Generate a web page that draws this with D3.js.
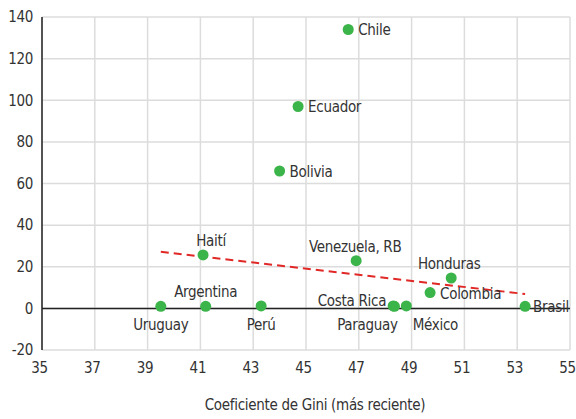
<!DOCTYPE html>
<html>
<head>
<meta charset="utf-8">
<script src="https://cdn.jsdelivr.net/npm/d3@7"></script>
<style>
	body { margin: 0; background: #fff; }
	svg text { font-family: "DejaVu Sans Condensed", "Liberation Sans Narrow", sans-serif; fill: #333; letter-spacing: -0.3px; }
</style>
</head>
<body>
<svg width="576" height="419"></svg>
<script>
// datos
const countries = [ "Chile", "Ecuador", "Bolivia", "Haití", "Venezuela, RB", "Honduras", "Colombia", "Brasil", "Uruguay", "Argentina", "Perú", "Costa Rica", "Paraguay", "México" ];
const gini      = [ 46.6, 44.7, 44.0, 41.1, 46.9, 50.5, 49.7, 53.3, 39.5, 41.2, 43.3, 48.3, 48.35, 48.8 ];
const yvals     = [ 134, 97, 66, 25.7, 22.9, 14.6, 7.6, 1, 1, 1, 1.2, 1.2, 1, 1.2 ];
const trendX    = [ 39.5, 53.3 ];
const trendY    = [ 27.2, 6.9 ];
const xTicks    = d3.range( 35, 56, 2 );
const yTicks    = d3.range( -20, 141, 20 );
const xTitle    = "Coeficiente de Gini (más reciente)";

// dónde va cada etiqueta respecto a su punto
const labelPos = {
	"Chile":         { pos: "right" },
	"Ecuador":       { pos: "right" },
	"Bolivia":       { pos: "right" },
	"Haití":         { pos: "above", dx: 8 },
	"Venezuela, RB": { pos: "above", dx: -1 },
	"Honduras":      { pos: "above", dx: -2 },
	"Colombia":      { pos: "right" },
	"Brasil":        { pos: "right", dx: -2 },
	"Uruguay":       { pos: "below" },
	"Argentina":     { pos: "above" },
	"Perú":          { pos: "below" },
	"Costa Rica":    { pos: "left", dy: -6 },
	"Paraguay":      { pos: "below", dx: -27 },
	"México":        { pos: "below", dx: 29 }
};

let  svg = d3.select( "svg" )
	,margin = { top: 17, right: 6, bottom: 69, left: 42 }
	,w = +svg.attr( "width" ) - margin.left - margin.right
	,h = +svg.attr( "height" ) - margin.top - margin.bottom
	,fs = "15px"
	,g = svg.append( "g" ).attr( "transform", "translate(" + margin.left + "," + margin.top + ")" );

let  x = d3.scaleLinear().domain( [ 35, 55 ] ).range( [ 0, w ] )
	,y = d3.scaleLinear().domain( [ -20, 140 ] ).range( [ h, 0 ] );

// rejilla
g.append( "g" )
	.selectAll( "line" )
	.data( xTicks )
	.enter().append( "line" )
	.attr( "x1", d => x( d ) ).attr( "x2", d => x( d ) )
	.attr( "y1", 0 ).attr( "y2", h )
	.style( "stroke", "#dcdcdc" ).style( "stroke-width", 1.5 );

g.append( "g" )
	.selectAll( "line" )
	.data( yTicks )
	.enter().append( "line" )
	.attr( "x1", 0 ).attr( "x2", w )
	.attr( "y1", d => y( d ) ).attr( "y2", d => y( d ) )
	.style( "stroke", "#dcdcdc" ).style( "stroke-width", 1.5 );

// ejes (guion simple como en el original)
let axisx = d3.axisBottom( x ).tickValues( xTicks ).tickSize( 0 ).tickPadding( 12 ).tickFormat( d => String( d ) );
g.append( "g" )
	.attr( "class", "axis axis--x" )
	.attr( "transform", "translate(0," + h + ")" )
	.call( axisx )
	.call( a => a.select( ".domain" ).remove() )
	.selectAll( "text" ).attr( "dx", -3 );

let axisy = d3.axisLeft( y ).tickValues( yTicks ).tickSize( 0 ).tickPadding( 9 ).tickFormat( d => String( d ) );
g.append( "g" )
	.attr( "class", "axis axis--y" )
	.call( axisy )
	.call( a => a.select( ".domain" ).remove() );

svg.selectAll( ".axis text" ).style( "font-size", fs ).style( "fill", "#333" );

g.append( "line" )
	.attr( "x1", 0 ).attr( "x2", 0 )
	.attr( "y1", 0 ).attr( "y2", h )
	.style( "stroke", "#222" ).style( "stroke-width", 1.5 );

g.append( "line" )
	.attr( "x1", 0 ).attr( "x2", w )
	.attr( "y1", y( 0 ) ).attr( "y2", y( 0 ) )
	.style( "stroke", "#222" ).style( "stroke-width", 1.5 );

svg.append( "text" )
	.attr( "x", margin.left + w / 2 + 9 )
	.attr( "y", 410 )
	.attr( "text-anchor", "middle" )
	.style( "font-size", fs )
	.text( xTitle );

// línea de tendencia
let trend = d3.line()
	.x( ( d, i ) => x( trendX[ i ] ) )
	.y( d => y( d ) );

g.append( "path" )
	.attr( "d", trend( trendY ) )
	.style( "fill", "none" )
	.style( "stroke", "#e02826" )
	.style( "stroke-width", 2 )
	.style( "stroke-dasharray", "8,5" );

// puntos y etiquetas
let pts = countries.map( ( c, i ) => ( { id: c, ax: gini[ i ], ay: yvals[ i ] } ) );

let content = g.selectAll( ".d-content" )
	.data( pts )
	.enter().append( "g" )
	.attr( "class", "d-content" )
	.attr( "transform", d => "translate(" + x( d.ax ) + "," + y( d.ay ) + ")" );

content.append( "circle" )
	.attr( "r", 5.5 )
	.style( "fill", "#3bb44a" );

content.append( "text" )
	.style( "font-size", fs )
	.attr( "text-anchor", d => {
		let p = labelPos[ d.id ].pos;
		return ( p === "right" )? "start" : ( p === "left" )? "end" : "middle";
	})
	.attr( "x", d => {
		let lp = labelPos[ d.id ], off = lp.dx || 0;
		if( lp.pos === "right" ) return 10 + off;
		if( lp.pos === "left" ) return -7 + off;
		return off;
	})
	.attr( "y", d => {
		let lp = labelPos[ d.id ], off = lp.dy || 0;
		if( lp.pos === "above" ) return -9 + off;
		if( lp.pos === "below" ) return 24 + off;
		return 6 + off;
	})
	.text( d => d.id );
</script>
</body>
</html>
